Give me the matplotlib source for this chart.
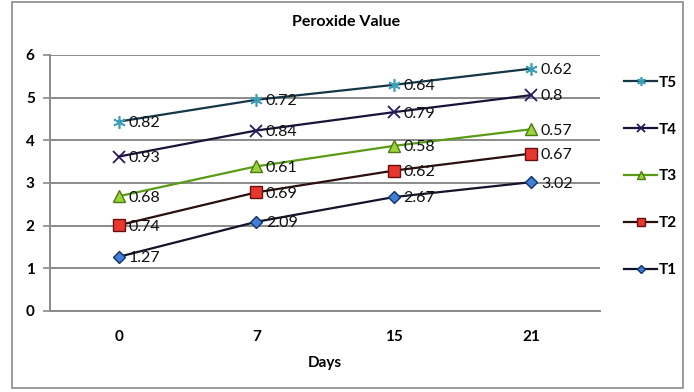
import matplotlib
matplotlib.use("Agg")
import matplotlib.pyplot as plt
from matplotlib.patches import Rectangle
import numpy as np

plt.rcParams['font.family'] = ['Lato', 'DejaVu Sans']

days = ["0", "7", "15", "21"]
series_names = ["T1", "T2", "T3", "T4", "T5"]
t1 = [1.27, 2.09, 2.67, 3.02]
t2 = [0.74, 0.69, 0.62, 0.67]
t3 = [0.68, 0.61, 0.58, 0.57]
t4 = [0.93, 0.84, 0.79, 0.80]
t5 = [0.82, 0.72, 0.64, 0.62]
y_ticks = [0, 1, 2, 3, 4, 5, 6]

series = [t1, t2, t3, t4, t5]
line_colors = ["#141428", "#2a0f0f", "#5a9a14", "#1c1238", "#143848"]
marker_styles = [
    dict(marker="D", ms=6, mfc="#3f7fd6", mec="#12306a", mew=1.0),
    dict(marker="s", ms=8, mfc="#e8372d", mec="#6a1010", mew=1.0),
    dict(marker="^", ms=8, mfc="#9ad43a", mec="#4a7a10", mew=1.0),
    dict(marker="x", ms=8, mfc="none", mec="#2a1a60", mew=1.3),
    dict(marker=(6, 2, 0), ms=9, mfc="none", mec="#3aa0b8", mew=1.2),
]

fig = plt.figure(figsize=(6.94, 3.92), dpi=100)
fig.patch.set_facecolor("white")
fig.add_artist(Rectangle((12 / 694, 4 / 392), 671 / 694, 386 / 392,
                         transform=fig.transFigure, fill=False,
                         edgecolor="#8a8a8a", linewidth=1.2))

ax = fig.add_axes([50 / 694, 1 - 311 / 392, 550 / 694, 256 / 392])
x = np.arange(len(days))

# stacked series: each line sits on top of the ones below it
cum = np.zeros(len(days))
handles = []
for name, vals, lc, ms in zip(series_names, series, line_colors, marker_styles):
    cum = cum + np.array(vals)
    h, = ax.plot(x, cum, color=lc, lw=1.6, label=name, zorder=3, **ms)
    handles.append(h)
    for xi, yi, v in zip(x, cum, vals):
        ax.annotate(f"{v:g}", (xi, yi),
                    xytext=(7, -1), textcoords="offset points",
                    ha="left", va="center", fontsize=11.5, color="#111111",
                    zorder=4)

ax.set_xlim(-0.5, 3.5)
ax.set_ylim(0, 6)
ax.set_yticks(y_ticks)
ax.set_xticks(x)
ax.set_xticklabels(days)
ax.yaxis.grid(True, color="#8a8a8a", lw=1.4)
ax.set_axisbelow(True)
for s in ["top", "right"]:
    ax.spines[s].set_visible(False)
for s in ["left", "bottom"]:
    ax.spines[s].set_color("#8a8a8a")
    ax.spines[s].set_linewidth(1.4)
ax.tick_params(axis="y", length=5, color="#8a8a8a", width=1.2, pad=6,
               labelsize=11)
ax.tick_params(axis="x", length=0, pad=14, labelsize=11)
for lab in ax.get_xticklabels() + ax.get_yticklabels():
    lab.set_fontweight("bold")
ax.set_xlabel("Days", fontsize=11, fontweight="bold", labelpad=8)

fig.text(346 / 694, 1 - 22 / 392, "Peroxide Value", ha="center", va="center",
         fontsize=11.5, fontweight="bold")

fig.legend(handles[::-1], series_names[::-1], loc="center left",
           bbox_to_anchor=(610 / 694, 1 - 176.5 / 392), frameon=False,
           handlelength=2.2, labelspacing=2.15, handletextpad=0.1,
           markerscale=0.7, prop=dict(weight="bold", size=11))

fig.savefig("out.png", dpi=100, facecolor="white")
